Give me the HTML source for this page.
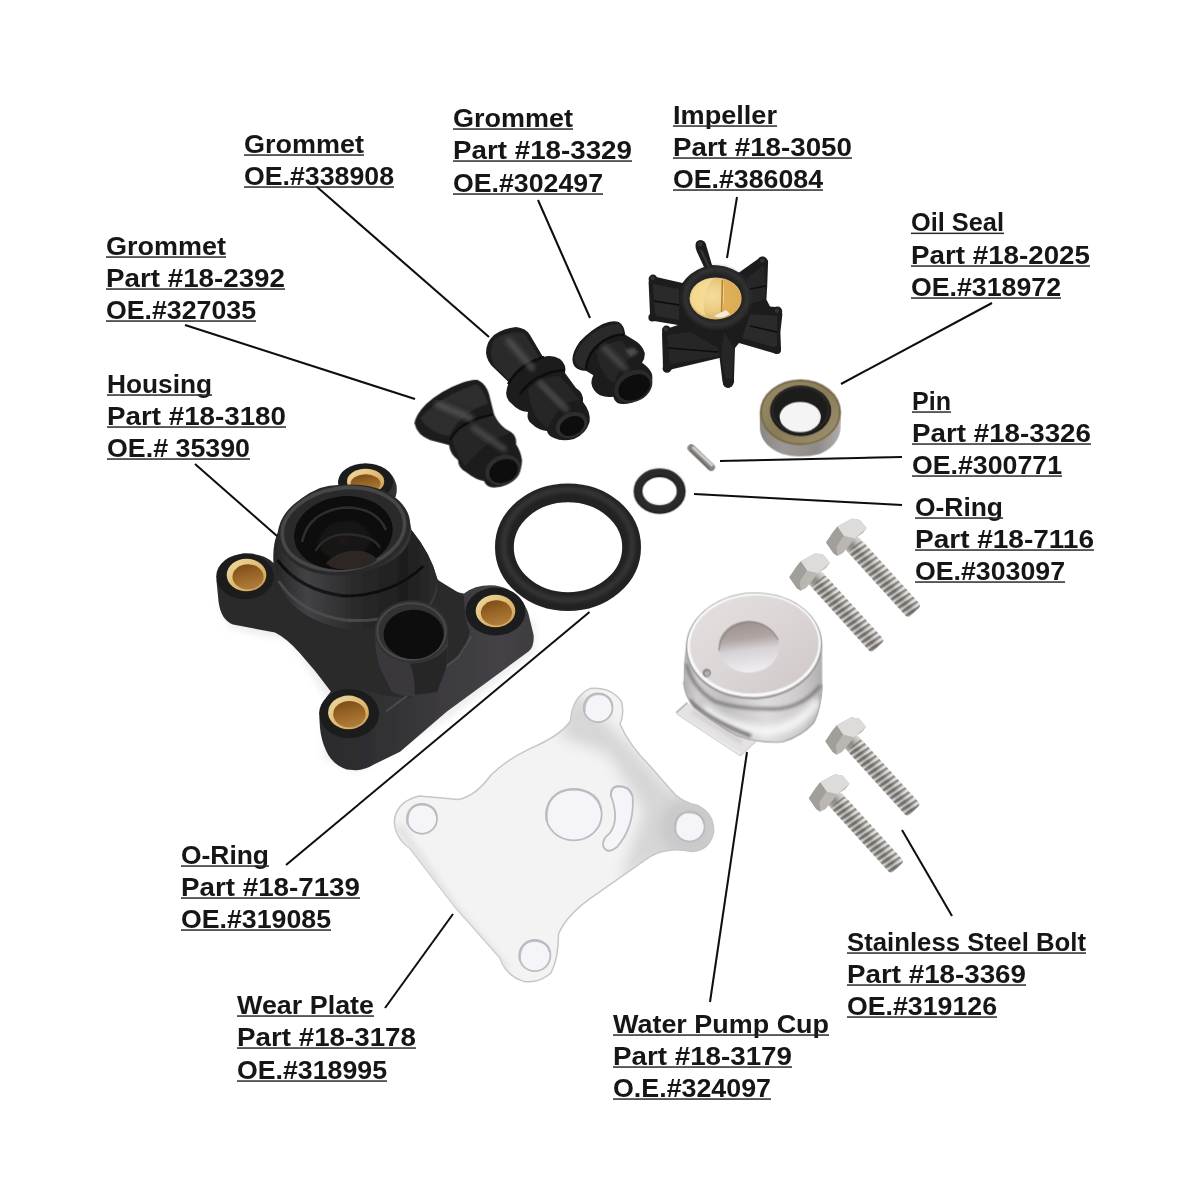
<!DOCTYPE html>
<html lang="en">
<head>
<meta charset="utf-8">
<title>Water Pump Impeller Kit - Parts Diagram</title>
<style>
html,body{margin:0;padding:0;background:#fff;}
body{width:1200px;height:1200px;overflow:hidden;}
svg{display:block;}
.lbl text{font-family:"Liberation Sans", sans-serif;font-weight:bold;font-size:25.2px;fill:#161616;}
.ldr line{stroke:#0a0a0a;stroke-width:2;stroke-linecap:butt;}
</style>
</head>
<body>
<svg width="1200" height="1200" viewBox="0 0 1200 1200">
<defs>
<filter id="soft" x="-5%" y="-5%" width="110%" height="110%"><feGaussianBlur stdDeviation="0.7"/></filter>
<filter id="soft2" x="-10%" y="-10%" width="120%" height="120%"><feGaussianBlur stdDeviation="1.5"/></filter>
<filter id="soft3" x="-20%" y="-20%" width="140%" height="140%"><feGaussianBlur stdDeviation="3"/></filter>
<filter id="b10" x="-30%" y="-30%" width="160%" height="160%"><feGaussianBlur stdDeviation="10"/></filter>
<filter id="b20" x="-30%" y="-30%" width="160%" height="160%"><feGaussianBlur stdDeviation="20"/></filter>
<filter id="b40" x="-40%" y="-40%" width="180%" height="180%"><feGaussianBlur stdDeviation="40"/></filter>
<filter id="ln" x="-5%" y="-5%" width="110%" height="110%"><feGaussianBlur stdDeviation="0.3"/></filter>
<filter id="txt" x="-2%" y="-10%" width="104%" height="120%"><feGaussianBlur stdDeviation="0.45"/></filter>
<linearGradient id="brassIn" x1="0.3" y1="0" x2="0.6" y2="1">
  <stop offset="0" stop-color="#7a4c18"/><stop offset="0.45" stop-color="#986426"/><stop offset="1" stop-color="#b07e3c"/>
</linearGradient>
<linearGradient id="brassRim" x1="0" y1="0" x2="1" y2="1">
  <stop offset="0" stop-color="#f2dca4"/><stop offset="0.5" stop-color="#e0bc74"/><stop offset="1" stop-color="#cc9c50"/>
</linearGradient>
<linearGradient id="hCyl" x1="0" y1="0" x2="1" y2="0">
  <stop offset="0" stop-color="#262626"/><stop offset="0.2" stop-color="#444246"/><stop offset="0.5" stop-color="#2a2a2a"/><stop offset="0.8" stop-color="#1e1e1e"/><stop offset="1" stop-color="#2c2c2c"/>
</linearGradient>
<radialGradient id="hHole" cx="0.5" cy="0.6" r="0.6">
  <stop offset="0" stop-color="#1c1a18"/><stop offset="0.6" stop-color="#0e0e0e"/><stop offset="1" stop-color="#080808"/>
</radialGradient>
<linearGradient id="hSide" x1="0" y1="0" x2="1" y2="0">
  <stop offset="0" stop-color="#2a2a2a"/><stop offset="0.45" stop-color="#2d2d2f"/><stop offset="0.7" stop-color="#3c3a3e"/><stop offset="0.9" stop-color="#444246"/><stop offset="1" stop-color="#3e3c40"/>
</linearGradient>

<linearGradient id="gA" x1="0" y1="0" x2="1" y2="1">
  <stop offset="0" stop-color="#2e2e2e"/><stop offset="0.35" stop-color="#1c1c1c"/><stop offset="0.6" stop-color="#2a2a2a"/><stop offset="1" stop-color="#121212"/>
</linearGradient>
<linearGradient id="gB" x1="0" y1="1" x2="1" y2="0">
  <stop offset="0" stop-color="#141414"/><stop offset="0.4" stop-color="#242424"/><stop offset="0.6" stop-color="#383838"/><stop offset="0.8" stop-color="#222"/><stop offset="1" stop-color="#161616"/>
</linearGradient>

<radialGradient id="impBrass" cx="0.45" cy="0.45" r="0.65">
  <stop offset="0" stop-color="#f4dc9c"/><stop offset="0.5" stop-color="#eccc84"/><stop offset="1" stop-color="#d0a85c"/>
</radialGradient>
<linearGradient id="sealTop" x1="0" y1="0" x2="1" y2="1">
  <stop offset="0" stop-color="#9a8e6c"/><stop offset="0.5" stop-color="#8a7c58"/><stop offset="1" stop-color="#a09472"/>
</linearGradient>
<linearGradient id="sealSide" x1="0" y1="0" x2="1" y2="0">
  <stop offset="0" stop-color="#8a8784"/><stop offset="0.3" stop-color="#9c9996"/><stop offset="0.7" stop-color="#8e8b88"/><stop offset="1" stop-color="#b0adaa"/>
</linearGradient>

<linearGradient id="cupTop" x1="0" y1="0" x2="1" y2="1">
  <stop offset="0" stop-color="#e6e1e1"/><stop offset="0.5" stop-color="#dcd6d6"/><stop offset="1" stop-color="#cec8c8"/>
</linearGradient>
<linearGradient id="cupSide" x1="0" y1="0" x2="1" y2="0">
  <stop offset="0" stop-color="#b2b0b0"/><stop offset="0.1" stop-color="#d0cece"/><stop offset="0.3" stop-color="#c2c0c0"/><stop offset="0.6" stop-color="#dedcdc"/><stop offset="0.85" stop-color="#cccaca"/><stop offset="1" stop-color="#b0aeae"/>
</linearGradient>
<linearGradient id="cupHole" x1="0" y1="0" x2="0.15" y2="1">
  <stop offset="0" stop-color="#9a8e8a"/><stop offset="0.4" stop-color="#b0a6a4"/><stop offset="0.62" stop-color="#d6d2d6"/><stop offset="1" stop-color="#eeecf0"/>
</linearGradient>
<linearGradient id="boltSh" x1="0" y1="0" x2="0" y2="1">
  <stop offset="0" stop-color="#dcdad8"/><stop offset="0.25" stop-color="#c4c0bc"/><stop offset="0.55" stop-color="#8e8a86"/><stop offset="0.8" stop-color="#989490"/><stop offset="1" stop-color="#bebcba"/>
</linearGradient>
<pattern id="thr" width="5.4" height="20" patternUnits="userSpaceOnUse" patternTransform="rotate(8)">
  <rect x="0" width="2.2" height="20" fill="#4e4a46" opacity="0.5"/>
  <rect x="3" width="1.6" height="20" fill="#ffffff" opacity="0.45"/>
</pattern>
<g id="bolt">
  <g transform="rotate(47.7)">
    <rect x="6" y="-9.2" width="95" height="18.4" rx="4" fill="url(#boltSh)"/>
    <rect x="12" y="-9.2" width="89" height="18.4" rx="4" fill="url(#thr)"/>
  </g>
  <path d="M-20.7,5.3 L-14,-5.3 L-9.3,-10.7 L5.3,-18.7 L13.3,-17.3 L20,-9.3 L16,-4 L8,1.3 L2.7,8 L-4,16 L-9.3,18.7 L-13.3,16 Z" fill="#bab6b2"/>
  <path d="M-9.3,-10.7 L5.3,-18.7 L13.3,-17.3 L20,-9.3 L8,1.3 L-3,-1.5 Z" fill="#dedcda"/>
  <path d="M-20.7,5.3 L-9.3,-10.7 L-3,-1.5 L-10,9 L-9.3,18.7 L-13.3,16 Z" fill="#a29e9a"/>
</g>
<clipPath id="cupClip"><path d="M106,438 Q88,560 90,680 Q100,780 160,848 Q300,960 450,1040 Q600,1090 750,1080 Q880,1040 960,950 Q1005,860 1015,700 L1014,438 Z"/></clipPath>

<linearGradient id="plt" x1="0" y1="1" x2="1" y2="0">
  <stop offset="0" stop-color="#fdfdfd"/><stop offset="0.5" stop-color="#f8f8f8"/><stop offset="0.8" stop-color="#efefef"/><stop offset="1" stop-color="#e2e2e2"/>
</linearGradient>
<clipPath id="plateClip"><path d="M48,505 Q52,440 130,420 Q200,425 260,432 Q320,420 370,350 Q420,300 500,262 Q600,220 635,170 Q640,90 700,62 Q770,55 805,105 Q815,150 800,180 Q830,250 900,320 L970,400 Q1000,440 1060,452 Q1115,480 1112,540 Q1100,600 1040,605 Q960,588 900,622 L700,762 Q620,820 595,880 Q595,960 570,1010 Q530,1045 480,1038 Q420,1020 400,960 L250,790 L100,595 Q50,560 48,505 Z"/></clipPath>
<filter id="blur12" x="-30%" y="-30%" width="160%" height="160%"><feGaussianBlur stdDeviation="22"/></filter>


</defs>
<rect width="1200" height="1200" fill="#fff"/>
<g class="parts">
<!-- 10_housing.svg -->
<g transform="translate(200,440) scale(0.3)" filter="url(#soft2)">
  <!-- soft shadow -->
  <path d="M60,540 L100,630 L300,670 L420,860 L410,1060 L520,1108 L840,920 L1115,710 L1115,600 Z" fill="#c8c8c8" opacity="0.3" filter="url(#b10)"/>
  <!-- silhouette -->
  <path d="M462,135 Q470,90 550,78 Q640,85 655,150 Q660,190 640,205 Q700,250 705,300 Q770,380 790,460 Q810,500 880,512 Q920,480 985,485 Q1070,500 1095,580 L1112,650 Q1115,690 1095,705 L822,906 L667,1039 L583,1080 Q550,1100 520,1101 L489,1098 Q440,1082 420,1035 Q404,1000 400,960 L398,930 Q402,875 436,838 L385,772 L333,711 Q290,662 250,642 L110,615 Q70,600 62,540 L55,470 Q60,400 140,378 Q210,375 245,410 Q240,350 262,300 Q300,200 400,160 Q430,150 462,150 Z" fill="url(#hSide)"/>
  <!-- base top face (darker) -->
  <path d="M250,440 Q240,500 270,560 L310,650 L445,845 Q500,810 600,850 L700,860 L880,700 L900,640 Q880,600 880,520 L790,465 Q800,560 700,600 Q500,660 330,560 Q270,520 250,440 Z" fill="#2a2a2a"/>
  <!-- lobes top faces -->
  <ellipse cx="150" cy="455" rx="96" ry="76" fill="#1c1c1c"/>
  <ellipse cx="985" cy="572" rx="100" ry="80" fill="#1c1c1c"/>
  <ellipse cx="497" cy="912" rx="100" ry="82" fill="#1c1c1c"/>
  <ellipse cx="552" cy="140" rx="92" ry="62" fill="#1e1e1e"/>
  <!-- top lobe bushing -->
  <ellipse cx="552" cy="138" rx="62" ry="42" fill="url(#brassRim)"/>
  <ellipse cx="552" cy="145" rx="50" ry="31" fill="url(#brassIn)"/>
  <!-- highlight along bottom edge -->
  <path d="M620,905 L860,725 L905,655" fill="none" stroke="#4c4c4e" stroke-width="7"/>
  <!-- cylinder body -->
  <path d="M252,330 Q240,420 270,500 Q330,600 480,630 Q600,640 700,600 Q790,550 790,460 Q770,380 705,300 Q700,420 480,450 Q300,440 252,330 Z" fill="url(#hCyl)"/>
  <path d="M262,470 Q330,575 480,600 Q620,610 720,560" fill="none" stroke="#505050" stroke-width="10" opacity="0.8"/>
  <path d="M258,400 Q330,500 480,520 Q640,520 745,420" fill="none" stroke="#0e0e0e" stroke-width="10" opacity="0.9"/>
  <!-- cylinder rim -->
  <ellipse cx="480" cy="300" rx="222" ry="150" transform="rotate(-8 480 300)" fill="#2c2c2c"/>
  <ellipse cx="478" cy="296" rx="205" ry="136" transform="rotate(-8 478 296)" fill="none" stroke="#464646" stroke-width="12"/>
  <ellipse cx="478" cy="310" rx="165" ry="122" transform="rotate(-8 478 310)" fill="url(#hHole)"/>
  <!-- inner steps -->
  <path d="M340,340 Q360,240 480,225 Q590,225 620,300" fill="none" stroke="#2e2e2e" stroke-width="9"/>
  <path d="M385,370 Q420,310 500,315 Q580,320 600,360" fill="none" stroke="#2c2c2c" stroke-width="8"/>
  <path d="M420,410 Q470,360 540,370 Q580,380 590,400 Q560,430 480,432 Q440,430 420,410 Z" fill="#2e2824"/>
  <!-- left lobe bushing -->
  <ellipse cx="155" cy="450" rx="66" ry="54" fill="url(#brassRim)"/>
  <ellipse cx="160" cy="456" rx="52" ry="42" fill="url(#brassIn)"/>
  <!-- right lobe bushing -->
  <ellipse cx="985" cy="570" rx="66" ry="54" fill="url(#brassRim)"/>
  <ellipse cx="988" cy="576" rx="52" ry="42" fill="url(#brassIn)"/>
  <!-- bottom lobe bushing -->
  <ellipse cx="495" cy="908" rx="68" ry="56" fill="url(#brassRim)"/>
  <ellipse cx="498" cy="914" rx="54" ry="44" fill="url(#brassIn)"/>
  <!-- small tube -->
  <path d="M585,640 Q580,700 600,760 L640,840 Q700,870 790,840 L820,760 Q830,700 825,640 Z" fill="#3a383c"/>
  <path d="M700,745 Q720,800 715,850 L790,840 L820,760 L826,690 Q780,745 700,745 Z" fill="#262626"/>
  <path d="M650,750 L680,850" stroke="#3a3a3a" stroke-width="8"/>
  <ellipse cx="705" cy="638" rx="124" ry="104" fill="#303030"/>
  <ellipse cx="705" cy="638" rx="114" ry="94" fill="none" stroke="#484848" stroke-width="7"/>
  <ellipse cx="712" cy="648" rx="100" ry="82" fill="#0c0c0c"/>
</g>

<!-- 20_grommets.svg -->
<!-- grommet A (18-2392) and B (338908) -->
<g transform="translate(400,300) scale(0.2)" filter="url(#soft3)">
  
  <!-- A silhouette -->
  <path d="M72,615 Q80,570 130,520 Q210,450 300,418 Q360,395 390,400 Q430,420 445,470 L470,570 Q490,620 520,640 L555,660 Q585,680 580,720 Q605,760 610,800 Q610,850 580,890 Q540,935 470,938 Q430,935 420,905 Q380,900 330,860 Q290,840 290,800 Q250,770 245,725 L150,700 Q85,675 72,615 Z" fill="#1d1d1d"/>
  <path d="M100,590 Q200,480 380,420 Q420,440 440,520 Q300,560 250,680 Q150,670 100,590 Z" fill="#2d2d2d"/>
  <path d="M260,690 Q300,600 470,575 Q500,630 555,665 Q420,700 330,830 Q280,780 260,690 Z" fill="#272727"/>
  
  <path d="M250,700 Q290,610 465,572" fill="none" stroke="#0e0e0e" stroke-width="12"/>
  <path d="M190,522 L350,590" fill="none" stroke="#5a5a5a" stroke-width="34" stroke-linecap="round" opacity="0.75" filter="url(#b10)"/>
  <path d="M370,640 L520,745" fill="none" stroke="#585858" stroke-width="30" stroke-linecap="round" opacity="0.7" filter="url(#b10)"/>
  <ellipse cx="515" cy="850" rx="92" ry="74" transform="rotate(-25 515 850)" fill="#2e2e2e"/>
  <ellipse cx="518" cy="855" rx="74" ry="56" transform="rotate(-25 518 855)" fill="#0a0a0a"/>
  
  <!-- B silhouette -->
  <path d="M430,265 Q430,210 470,175 Q520,140 580,135 Q630,140 650,175 L715,285 Q760,270 800,295 Q835,325 825,365 L880,440 Q920,465 915,510 Q955,560 948,610 Q930,670 870,695 Q810,710 770,690 Q740,680 735,655 Q690,650 660,620 Q630,600 640,560 Q590,555 560,520 Q520,490 535,440 Q540,420 545,412 L470,340 Q435,310 430,265 Z" fill="#1c1c1c"/>
  <path d="M470,200 Q540,150 620,165 L700,290 Q610,300 545,400 L470,330 Q440,260 470,200 Z" fill="#2c2c2c"/>
  
  <path d="M640,450 Q700,380 800,380 L900,500 Q800,500 740,640 Q660,600 640,450 Z" fill="#262626"/>
  
  <path d="M540,420 Q600,320 720,285" fill="none" stroke="#0c0c0c" stroke-width="12"/>
  <path d="M600,470 Q680,360 825,350" fill="none" stroke="#0c0c0c" stroke-width="12"/>
  <path d="M545,205 L660,340" fill="none" stroke="#5a5a5a" stroke-width="32" stroke-linecap="round" opacity="0.7" filter="url(#b10)"/>
  <path d="M700,415 L830,545" fill="none" stroke="#585858" stroke-width="30" stroke-linecap="round" opacity="0.7" filter="url(#b10)"/>
  <ellipse cx="858" cy="625" rx="82" ry="62" transform="rotate(-25 858 625)" fill="#2e2e2e"/>
  <ellipse cx="860" cy="630" rx="64" ry="46" transform="rotate(-25 860 630)" fill="#090909"/>
</g>
<!-- grommet C (18-3329) -->
<g transform="translate(540,290) scale(0.13333)" filter="url(#soft3)">
  <path d="M243,520 Q245,460 300,385 Q380,300 470,255 Q540,225 590,240 Q630,260 640,335 Q690,365 720,385 Q770,420 785,470 Q790,510 765,545 Q820,580 840,630 Q850,690 825,740 Q780,810 690,845 Q620,862 580,848 Q555,830 550,800 Q500,810 450,790 Q395,760 385,700 Q388,660 400,640 L345,605 Q300,610 265,580 Q245,560 243,520 Z" fill="#1b1b1b"/>
  <path d="M255,510 Q290,400 400,320 Q500,250 590,255 Q620,275 622,330 Q520,330 420,420 Q340,500 340,590 Q280,590 255,510 Z" fill="#2a2a2a"/>
  <path d="M345,600 Q350,480 450,400 Q540,330 630,335" fill="none" stroke="#0a0a0a" stroke-width="16"/>
  <path d="M420,460 Q520,380 620,380 L700,500 Q600,540 560,700 Q450,640 420,460 Z" fill="#262626"/>
  <path d="M480,430 L640,590" fill="none" stroke="#585858" stroke-width="44" stroke-linecap="round" opacity="0.7" filter="url(#b20)"/>
  <path d="M640,450 L700,430 L740,470 L680,500 Z" fill="#5a5a5a" opacity="0.8" filter="url(#b10)"/>
  <ellipse cx="700" cy="722" rx="150" ry="115" transform="rotate(-28 700 722)" fill="#2b2b2b"/>
  <ellipse cx="706" cy="730" rx="125" ry="90" transform="rotate(-28 706 730)" fill="#0a0a0a"/>
</g>

<!-- 30_impeller.svg -->
<g transform="translate(630,220) scale(0.2)" filter="url(#soft3)">
  <!-- vanes silhouette -->
  <path d="M328,120 Q335,100 355,102 Q380,105 382,130 L410,225 Q480,225 545,262 L640,195 Q650,180 670,185 Q695,195 690,220 L686,330 L682,398 L700,432 L725,435 Q760,445 762,470 L752,560 L755,645 Q750,672 725,668 L545,615 L525,640 L520,790 Q525,830 495,838 Q465,835 462,805 L448,690 L215,745 Q185,760 165,740 L160,570 Q160,548 180,545 L240,525 L120,505 Q98,500 100,470 L93,310 Q95,285 120,282 L262,315 Q300,260 370,235 L335,160 Q325,140 328,120 Z" fill="#1d1d1d"/>
  <!-- vane faces (lighter) -->
  <path d="M115,320 L245,345 L245,500 L125,480 Z" fill="#292929"/>
  <path d="M185,575 L300,560 L440,640 L445,680 L200,720 Z" fill="#282828"/>
  <path d="M585,290 L670,225 L678,330 L674,395 L600,420 Z" fill="#282828"/>
  <path d="M600,470 L735,480 L735,640 L560,590 Z" fill="#2b2b2b"/>
  <path d="M470,560 L520,640 L510,800 L480,800 L455,680 Z" fill="#262626"/>
  <path d="M120,405 L245,425 M190,640 L440,660 M600,530 L735,560 M678,330 L600,345" stroke="#0c0c0c" stroke-width="8" fill="none"/>
  <path d="M345,130 L395,235" stroke="#333" stroke-width="14" fill="none"/>
  <!-- tip bulbs -->
  <g fill="#1b1b1b">
    <circle cx="353" cy="125" r="24"/><circle cx="663" cy="207" r="24"/><circle cx="737" cy="457" r="24"/>
    <circle cx="490" cy="815" r="25"/><circle cx="182" cy="550" r="22"/><circle cx="185" cy="742" r="22"/>
    <circle cx="115" cy="295" r="22"/><circle cx="112" cy="488" r="20"/><circle cx="735" cy="650" r="20"/>
  </g>
  <g fill="#303030">
    <circle cx="351" cy="121" r="12"/><circle cx="661" cy="203" r="12"/><circle cx="735" cy="453" r="12"/><circle cx="180" cy="546" r="11"/><circle cx="113" cy="291" r="11"/>
  </g>
  <!-- hub -->
  <ellipse cx="432" cy="388" rx="172" ry="158" fill="#242424"/>
  <ellipse cx="432" cy="386" rx="155" ry="138" fill="none" stroke="#363636" stroke-width="20" filter="url(#b10)"/>
  <!-- brass bore -->
  <ellipse cx="428" cy="392" rx="130" ry="105" fill="url(#impBrass)"/>
  <path d="M300,400 Q310,300 420,290 Q380,330 370,400 Q365,450 380,480 Q320,460 300,400 Z" fill="#f8e098" opacity="0.7"/>
  <path d="M470,295 Q540,320 555,385 Q550,440 500,480 L460,485 L470,400 Z" fill="#dba94c" opacity="0.8"/>
  <path d="M462,300 L458,460" stroke="#b48430" stroke-width="8" fill="none"/>
  <path d="M420,480 Q450,500 500,470 L480,450 Z" fill="#f4ecd8"/>
</g>
<!-- oil seal -->
<g transform="translate(630,220) scale(0.2)" filter="url(#soft3)">
  <path d="M648,960 L650,1050 Q660,1130 760,1170 Q850,1195 950,1170 Q1040,1130 1052,1050 L1055,960 Z" fill="url(#sealSide)"/>
  <ellipse cx="852" cy="962" rx="204" ry="166" fill="url(#sealTop)"/>
  <ellipse cx="852" cy="962" rx="196" ry="158" fill="none" stroke="#6e6448" stroke-width="6"/>
  <ellipse cx="853" cy="954" rx="153" ry="127" fill="#1c1c1a"/>
  <ellipse cx="852" cy="950" rx="140" ry="114" fill="none" stroke="#2c2c2a" stroke-width="8"/>
  <ellipse cx="851" cy="985" rx="103" ry="76" fill="#f4f4f4"/>
</g>

<!-- 40_orings.svg -->
<g transform="translate(480,420) scale(0.2)" filter="url(#soft3)">
  <!-- large o-ring -->
  <ellipse cx="440" cy="636" rx="318" ry="272" fill="none" stroke="#222" stroke-width="94"/>
  <ellipse cx="440" cy="624" rx="322" ry="276" fill="none" stroke="#404040" stroke-width="26" opacity="0.75" filter="url(#b10)"/>
  <!-- small o-ring -->
  <ellipse cx="898" cy="356" rx="108" ry="92" fill="none" stroke="#232323" stroke-width="44"/>
  <ellipse cx="898" cy="351" rx="109" ry="93" fill="none" stroke="#404040" stroke-width="14" opacity="0.75" filter="url(#b10)"/>
  <!-- pin -->
  <path d="M1056,140 L1156,236" stroke="#8a8684" stroke-width="38" stroke-linecap="round"/>
  <path d="M1066,138 L1160,226" stroke="#d4d2d0" stroke-width="12" stroke-linecap="round"/>
  <path d="M1052,152 L1146,244" stroke="#6a6664" stroke-width="8" stroke-linecap="round"/>
</g>

<!-- 50_cup.svg -->
<g transform="translate(670,580) scale(0.15)" filter="url(#soft3)">
  <!-- tab -->
  <path d="M40,885 L115,818 L160,845 L300,960 L450,1040 L575,1075 L470,1172 L200,1000 Z" fill="#e4e2e2"/>
  <path d="M40,885 L115,818" fill="none" stroke="#a4a2a2" stroke-width="8"/>
  <path d="M50,895 L465,1165" fill="none" stroke="#fafafa" stroke-width="16"/>
  <path d="M46,892 L470,1172 L575,1075" fill="none" stroke="#b4b2b2" stroke-width="6"/>
  <path d="M150,880 L480,1085" fill="none" stroke="#cfcdcd" stroke-width="26" opacity="0.8" filter="url(#b10)"/>
  <!-- side wall -->
  <path d="M106,438 Q88,560 90,680 Q100,780 160,848 Q300,960 450,1040 Q600,1090 750,1080 Q880,1040 960,950 Q1005,860 1015,700 L1014,438 Z" fill="url(#cupSide)"/>
  <g clip-path="url(#cupClip)">
  <path d="M220,860 Q400,990 640,1010 Q860,990 990,800" fill="none" stroke="#fdfdfd" stroke-width="70" opacity="0.8" filter="url(#b20)"/>
  <path d="M125,800 Q250,930 540,1040" fill="none" stroke="#5e5c5c" stroke-width="24" opacity="0.85" filter="url(#b10)"/>
  <path d="M110,560 Q150,720 300,810 Q467,868 733,858 Q900,835 1005,700" fill="none" stroke="#6a6868" stroke-width="18" opacity="0.9" filter="url(#b10)"/>
  
  </g>
  <path d="M90,680 Q100,780 160,848 Q300,960 450,1040 Q600,1090 750,1080 Q880,1040 960,950 Q1005,860 1015,700" fill="none" stroke="#a2a0a0" stroke-width="8"/>
  <!-- top face -->
  <ellipse cx="560" cy="440" rx="455" ry="357" transform="rotate(-3 560 440)" fill="#a09e9e"/>
  <ellipse cx="560" cy="434" rx="446" ry="346" transform="rotate(-3 560 434)" fill="#f8f7f7"/>
  <ellipse cx="562" cy="430" rx="428" ry="326" transform="rotate(-3 562 430)" fill="url(#cupTop)"/>
  <!-- hole -->
  <ellipse cx="525" cy="446" rx="202" ry="172" fill="url(#cupHole)"/>
  <path d="M326,470 Q340,310 520,278 Q660,280 722,400" fill="none" stroke="#8c8480" stroke-width="10" opacity="0.7"/>
  <!-- small hole -->
  <circle cx="245" cy="620" r="28" fill="#8e8a8a"/>
  <circle cx="248" cy="624" r="17" fill="#b4b0b0"/>
</g>
<!-- bolts -->
<g filter="url(#soft)">
  <use href="#bolt" transform="translate(846.7,537.3)"/>
  <use href="#bolt" transform="translate(810,572)"/>
  <use href="#bolt" transform="translate(846,736)"/>
  <use href="#bolt" transform="translate(829.5,793)"/>
</g>

<!-- 60_plate.svg -->
<g transform="translate(380,670) scale(0.3)" filter="url(#soft2)">
  <path d="M48,505 Q52,440 130,420 Q200,425 260,432 Q320,420 370,350 Q420,300 500,262 Q600,220 635,170 Q640,90 700,62 Q770,55 805,105 Q815,150 800,180 Q830,250 900,320 L970,400 Q1000,440 1060,452 Q1115,480 1112,540 Q1100,600 1040,605 Q960,588 900,622 L700,762 Q620,820 595,880 Q595,960 570,1010 Q530,1045 480,1038 Q420,1020 400,960 L250,790 L100,595 Q50,560 48,505 Z" fill="#f3f3f3" stroke="#c6c6c6" stroke-width="5"/>
  <g clip-path="url(#plateClip)">
    <path d="M640,60 L830,250 L970,400 L1120,450 L1120,620 L900,640 L800,700 L880,470 L760,280 L600,220 Z" fill="#cacaca" opacity="0.7" filter="url(#blur12)"/>
    <ellipse cx="1030" cy="525" rx="100" ry="95" fill="#c6c6c6" opacity="0.8" filter="url(#b20)"/>
    <path d="M60,520 L250,800 L420,1000" fill="none" stroke="#e2e2e2" stroke-width="30" filter="url(#b10)"/>
  </g>
  <!-- holes -->
  <g fill="#f5f5f9" stroke="#bcbcc0" stroke-width="6">
    <circle cx="727" cy="126" r="48"/>
    <circle cx="1032" cy="522" r="50"/>
    <circle cx="516" cy="952" r="52"/>
    <circle cx="140" cy="496" r="50"/>
    <ellipse cx="646" cy="482" rx="93" ry="86"/>
    <path d="M790,388 Q830,384 842,420 Q850,520 790,590 Q760,615 745,590 Q738,565 765,545 Q800,500 770,420 Q768,392 790,388 Z"/>
  </g>
  <g fill="none" stroke="#b9b9bf" stroke-width="7" opacity="0.8">
    <path d="M682,140 Q680,85 727,80 Q770,82 774,120"/>
    <path d="M985,540 Q980,475 1032,474 Q1078,478 1080,515"/>
    <path d="M467,970 Q462,905 516,902 Q560,905 566,940"/>
    <path d="M92,515 Q88,450 140,448 Q185,452 188,485"/>
    <path d="M556,505 Q548,400 646,398 Q730,402 738,470"/>
    <path d="M770,420 Q768,392 790,388 Q830,384 842,420"/>
  </g>
</g>


</g>
<g class="ldr" filter="url(#ln)">
<line x1="316.5" y1="186.5" x2="489" y2="337"/>
<line x1="538" y1="200" x2="590" y2="318"/>
<line x1="737" y1="197" x2="727" y2="258"/>
<line x1="992" y1="303" x2="841" y2="384"/>
<line x1="185" y1="325" x2="415" y2="399"/>
<line x1="195" y1="464" x2="277" y2="536"/>
<line x1="902" y1="457" x2="720" y2="461"/>
<line x1="902" y1="505" x2="694" y2="494"/>
<line x1="286" y1="865" x2="589.5" y2="612"/>
<line x1="385" y1="1008" x2="453" y2="914"/>
<line x1="710" y1="1002" x2="747" y2="752"/>
<line x1="952" y1="916" x2="902" y2="830"/>
</g>
<g class="lbl" filter="url(#txt)">
<text x="244" y="152.5" textLength="120" lengthAdjust="spacingAndGlyphs">Grommet</text>
<rect x="244" y="154.3" width="120" height="1.5" fill="#2a2a2a"/>
<text x="244" y="184.5" textLength="150" lengthAdjust="spacingAndGlyphs">OE.#338908</text>
<rect x="244" y="186.3" width="150" height="1.5" fill="#2a2a2a"/>
<text x="453" y="126.5" textLength="120" lengthAdjust="spacingAndGlyphs">Grommet</text>
<rect x="453" y="128.3" width="120" height="1.5" fill="#2a2a2a"/>
<text x="453" y="158.5" textLength="179" lengthAdjust="spacingAndGlyphs">Part #18-3329</text>
<rect x="453" y="160.3" width="179" height="1.5" fill="#2a2a2a"/>
<text x="453" y="191.5" textLength="150" lengthAdjust="spacingAndGlyphs">OE.#302497</text>
<rect x="453" y="193.3" width="150" height="1.5" fill="#2a2a2a"/>
<text x="673" y="123.5" textLength="104" lengthAdjust="spacingAndGlyphs">Impeller</text>
<rect x="673" y="125.3" width="104" height="1.5" fill="#2a2a2a"/>
<text x="673" y="155.5" textLength="179" lengthAdjust="spacingAndGlyphs">Part #18-3050</text>
<rect x="673" y="157.3" width="179" height="1.5" fill="#2a2a2a"/>
<text x="673" y="187.5" textLength="150" lengthAdjust="spacingAndGlyphs">OE.#386084</text>
<rect x="673" y="189.3" width="150" height="1.5" fill="#2a2a2a"/>
<text x="911" y="230.8" textLength="93" lengthAdjust="spacingAndGlyphs">Oil Seal</text>
<rect x="911" y="232.60000000000002" width="93" height="1.5" fill="#2a2a2a"/>
<text x="911" y="263.5" textLength="179" lengthAdjust="spacingAndGlyphs">Part #18-2025</text>
<rect x="911" y="265.3" width="179" height="1.5" fill="#2a2a2a"/>
<text x="911" y="295.5" textLength="150" lengthAdjust="spacingAndGlyphs">OE.#318972</text>
<rect x="911" y="297.3" width="150" height="1.5" fill="#2a2a2a"/>
<text x="106" y="254.5" textLength="120" lengthAdjust="spacingAndGlyphs">Grommet</text>
<rect x="106" y="256.3" width="120" height="1.5" fill="#2a2a2a"/>
<text x="106" y="286.5" textLength="179" lengthAdjust="spacingAndGlyphs">Part #18-2392</text>
<rect x="106" y="288.3" width="179" height="1.5" fill="#2a2a2a"/>
<text x="106" y="318.5" textLength="150" lengthAdjust="spacingAndGlyphs">OE.#327035</text>
<rect x="106" y="320.3" width="150" height="1.5" fill="#2a2a2a"/>
<text x="107" y="392.5" textLength="105" lengthAdjust="spacingAndGlyphs">Housing</text>
<rect x="107" y="394.3" width="105" height="1.5" fill="#2a2a2a"/>
<text x="107" y="424.5" textLength="179" lengthAdjust="spacingAndGlyphs">Part #18-3180</text>
<rect x="107" y="426.3" width="179" height="1.5" fill="#2a2a2a"/>
<text x="107" y="456.5" textLength="143" lengthAdjust="spacingAndGlyphs">OE.# 35390</text>
<rect x="107" y="458.3" width="143" height="1.5" fill="#2a2a2a"/>
<text x="912" y="409.5" textLength="39" lengthAdjust="spacingAndGlyphs">Pin</text>
<rect x="912" y="411.3" width="39" height="1.5" fill="#2a2a2a"/>
<text x="912" y="441.5" textLength="179" lengthAdjust="spacingAndGlyphs">Part #18-3326</text>
<rect x="912" y="443.3" width="179" height="1.5" fill="#2a2a2a"/>
<text x="912" y="473.5" textLength="150" lengthAdjust="spacingAndGlyphs">OE.#300771</text>
<rect x="912" y="475.3" width="150" height="1.5" fill="#2a2a2a"/>
<text x="915" y="515.5" textLength="88" lengthAdjust="spacingAndGlyphs">O-Ring</text>
<rect x="915" y="517.3" width="88" height="1.5" fill="#2a2a2a"/>
<text x="915" y="547.5" textLength="179" lengthAdjust="spacingAndGlyphs">Part #18-7116</text>
<rect x="915" y="549.3" width="179" height="1.5" fill="#2a2a2a"/>
<text x="915" y="579.5" textLength="150" lengthAdjust="spacingAndGlyphs">OE.#303097</text>
<rect x="915" y="581.3" width="150" height="1.5" fill="#2a2a2a"/>
<text x="181" y="863.5" textLength="88" lengthAdjust="spacingAndGlyphs">O-Ring</text>
<rect x="181" y="865.3" width="88" height="1.5" fill="#2a2a2a"/>
<text x="181" y="895.5" textLength="179" lengthAdjust="spacingAndGlyphs">Part #18-7139</text>
<rect x="181" y="897.3" width="179" height="1.5" fill="#2a2a2a"/>
<text x="181" y="927.5" textLength="150" lengthAdjust="spacingAndGlyphs">OE.#319085</text>
<rect x="181" y="929.3" width="150" height="1.5" fill="#2a2a2a"/>
<text x="237" y="1013.5" textLength="137" lengthAdjust="spacingAndGlyphs">Wear Plate</text>
<rect x="237" y="1015.3" width="137" height="1.5" fill="#2a2a2a"/>
<text x="237" y="1045.5" textLength="179" lengthAdjust="spacingAndGlyphs">Part #18-3178</text>
<rect x="237" y="1047.3" width="179" height="1.5" fill="#2a2a2a"/>
<text x="237" y="1078.5" textLength="150" lengthAdjust="spacingAndGlyphs">OE.#318995</text>
<rect x="237" y="1080.3" width="150" height="1.5" fill="#2a2a2a"/>
<text x="613" y="1032.5" textLength="216" lengthAdjust="spacingAndGlyphs">Water Pump Cup</text>
<rect x="613" y="1034.3" width="216" height="1.5" fill="#2a2a2a"/>
<text x="613" y="1064.5" textLength="179" lengthAdjust="spacingAndGlyphs">Part #18-3179</text>
<rect x="613" y="1066.3" width="179" height="1.5" fill="#2a2a2a"/>
<text x="613" y="1096.5" textLength="158" lengthAdjust="spacingAndGlyphs">O.E.#324097</text>
<rect x="613" y="1098.3" width="158" height="1.5" fill="#2a2a2a"/>
<text x="847" y="950.5" textLength="239" lengthAdjust="spacingAndGlyphs">Stainless Steel Bolt</text>
<rect x="847" y="952.3" width="239" height="1.5" fill="#2a2a2a"/>
<text x="847" y="982.5" textLength="179" lengthAdjust="spacingAndGlyphs">Part #18-3369</text>
<rect x="847" y="984.3" width="179" height="1.5" fill="#2a2a2a"/>
<text x="847" y="1014.5" textLength="150" lengthAdjust="spacingAndGlyphs">OE.#319126</text>
<rect x="847" y="1016.3" width="150" height="1.5" fill="#2a2a2a"/>
</g>
</svg>
</body>
</html>
